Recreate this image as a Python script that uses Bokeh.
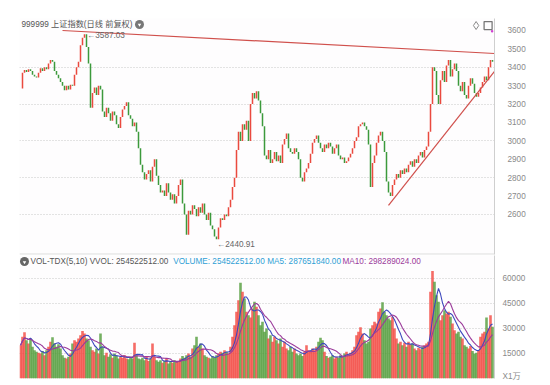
import numpy as np
import pandas as pd
from bokeh.plotting import figure
from bokeh.models import Range1d, FixedTicker, Label, ColumnDataSource
from bokeh.layouts import column
from bokeh.embed import file_html
from bokeh.resources import INLINE

# ---------------- data ----------------
close = [
    3285, 3370, 3385, 3375, 3390, 3380, 3360, 3350, 3345, 3370,
    3395, 3380, 3400, 3390, 3420, 3440, 3430, 3380, 3360, 3340,
    3320, 3300, 3275, 3300, 3280, 3305, 3300, 3360, 3400, 3430,
    3520, 3560, 3580, 3510, 3420, 3180, 3260, 3290, 3250, 3300,
    3280, 3160, 3130, 3180, 3150, 3110, 3160, 3140, 3090, 3070,
    3130, 3170, 3190, 3210, 3140, 3120, 3080, 3100, 3050, 2960,
    2870, 2830, 2790, 2820, 2840, 2780, 2860, 2900, 2810, 2760,
    2720, 2730, 2700, 2770, 2720, 2680, 2710, 2660, 2700, 2760,
    2790, 2660, 2600, 2490, 2620, 2600, 2650, 2630, 2590, 2640,
    2610, 2660, 2600, 2570, 2610, 2540, 2520, 2480, 2465, 2530,
    2580, 2570, 2600, 2590, 2640, 2680, 2750, 2800, 2950, 3050,
    3000, 3090, 3060, 3110, 3000, 3200, 3260, 3230, 3270, 3220,
    3150, 3080, 2920, 2900, 2950, 2880, 2900, 2940, 2890, 2920,
    2880, 2980, 3010, 3040, 2960, 2940, 2930, 2960, 2940, 2900,
    2800, 2780, 2830, 2850, 2880, 2930, 2990, 3010, 3030, 2990,
    2960, 2940, 2980, 2960, 2990, 2970, 2930, 2960, 2980, 2920,
    2900, 2910, 2880, 2890, 2910, 2930, 2960, 3000, 3020, 3080,
    3090, 3100, 3080, 3060, 2980, 2750, 2880, 2920, 2990, 3030,
    3050, 3000, 2940, 2780, 2720, 2700, 2760, 2790, 2820, 2800,
    2840, 2820, 2850, 2830, 2870, 2890, 2860, 2900, 2880, 2920,
    2940, 2910, 2950, 2970, 3050, 3200, 3400, 3380, 3250, 3200,
    3330, 3380, 3320, 3410, 3440, 3350, 3390, 3420, 3380, 3300,
    3270, 3320, 3250, 3230, 3300, 3340, 3310, 3260, 3240, 3260,
    3290, 3320, 3350, 3330, 3400, 3440, 3430,
]

volume = [
    20000, 25000, 27800, 23000, 21000, 24000, 19000, 17000, 16000, 15500,
    15000, 16500, 14000, 17000, 19000, 22000, 24700, 21000, 19000, 20500,
    18000, 14000, 12500, 12000, 13000, 15000, 21000, 23000, 22000, 24000,
    26000, 28500, 27000, 24000, 23000, 19000, 17000, 16000, 18000, 15000,
    27000, 19000, 14000, 15500, 13000, 14500, 12500, 15000, 13500, 12000,
    13000, 12500, 14000, 12000, 11500, 13000, 12000, 21500, 14000, 12000,
    11500, 12500, 11000, 13000, 10500, 12000, 21000, 13000, 11000, 10000,
    11000, 9500, 10500, 12000, 9000, 10000, 9500, 11000, 10000, 10500,
    12000, 13500, 12500, 14000, 15000, 13000, 18000, 20000, 25000, 19000,
    21000, 18000, 14000, 13000, 12500, 12000, 13500, 12500, 14000, 15000,
    16000, 15500, 17000, 16000, 15000, 19000, 25000, 32000, 40000, 47000,
    57400, 52000, 48000, 40000, 38000, 36600, 42000, 46000, 43000, 38000,
    32000, 34000, 28000, 30000, 24000, 26000, 22000, 25000, 23000, 21000,
    24000, 19000, 22000, 18000, 17000, 19000, 16000, 18000, 15000, 14000,
    15000, 13500, 16000, 20000, 17000, 16500, 18000, 17000, 19000, 22000,
    24500, 23000, 16000, 13500, 12500, 13000, 14000, 12000, 13000, 12500,
    14000, 13000, 15000, 16000, 14500, 15500, 17000, 19000, 26000, 28000,
    30800, 27000, 23000, 21000, 22000, 30000, 32000, 34000, 33000, 40000,
    42000, 45700, 40000, 38000, 36000, 35000, 37000, 30000, 24000, 21000,
    22000, 20000, 21500, 19000, 22000, 20500, 21000, 18000, 17000, 18500,
    17500, 19000, 20000, 21000, 22000, 52000, 64500, 58000, 50000, 46000,
    35000, 38000, 41000, 39000, 40000, 37000, 33000, 29000, 27000, 28000,
    25000, 24000, 20000, 19000, 18000, 19500, 16500, 15000, 15500, 17000,
    25000, 27000, 28000, 36600, 30000, 38000, 31000,
]

price_ticks = [2600, 2700, 2800, 2900, 3000, 3100, 3200, 3300, 3400, 3500, 3600]
price_grid = [2600, 2800, 3000, 3200, 3400]
vol_ticks = [15000, 30000, 45000, 60000]

upper_trend_x = [21, 237]
upper_trend_y = [3600, 3475]
lower_trend_x = [184, 237]
lower_trend_y = [2649, 3378]

title_text = "999999 上证指数(日线 前复权)"
peak_text = "←3587.03"
low_text = "←2440.91"
vol_name = "VOL-TDX(5,10) VVOL: 254522512.00"
vol_value = "VOLUME: 254522512.00"
ma5_text = "MA5: 287651840.00"
ma10_text = "MA10: 298289024.00"
unit_text = "X1万"

# ---------------- derived ----------------
n = len(close)
idx = np.arange(n)
c = np.array(close, dtype=float)
o = np.concatenate([[c[0]], c[:-1]])
up = c >= o
RED, GREEN = "#ea4a3f", "#3c9a3c"
VRED, VGREEN = "#f2433b", "#4e9a36"
candle_col = [RED if u else GREEN for u in up]
vol_col = [VRED if u else VGREEN for u in up]
vol = pd.Series(volume, dtype=float)
ma5 = vol.rolling(5, min_periods=1).mean().values
ma10 = vol.rolling(10, min_periods=1).mean().values

src = ColumnDataSource(dict(x=idx, top=np.maximum(o, c), bottom=np.minimum(o, c),
                            ccol=candle_col, vcol=vol_col, vol=volume,
                            ma5=ma5, ma10=ma10))

FONT = "Liberation Sans, Noto Sans CJK SC"
AXC = "#8a8a8a"
W = 545

# ---------------- price pane ----------------
xr = Range1d(-0.5, 237)
p1 = figure(width=W, height=255, x_range=xr, y_range=Range1d(2382.6, 3665.2),
            output_backend="svg", toolbar_location=None,
            x_axis_location=None, y_axis_location="right",
            min_border_left=19, min_border_right=W - 494, min_border_top=18, min_border_bottom=1)
p1.outline_line_color = None
p1.background_fill_color = "#fefdfe"
p1.yaxis.ticker = FixedTicker(ticks=price_ticks)
p1.yaxis.major_tick_out = 0
p1.yaxis.major_tick_in = 0
p1.yaxis.minor_tick_out = 0
p1.yaxis.minor_tick_in = 0
p1.yaxis.major_label_standoff = 13
p1.yaxis.axis_line_color = "#cfcfcf"
p1.yaxis.major_label_text_color = AXC
p1.yaxis.major_label_text_font = FONT
p1.yaxis.major_label_text_font_size = "8.2px"
p1.ygrid.ticker = FixedTicker(ticks=price_grid)
p1.ygrid.grid_line_color = "#c8c8c8"
p1.ygrid.grid_line_dash = "1 2"
p1.xgrid.visible = False

p1.vbar(x="x", width=0.75, top="top", bottom="bottom", fill_color="ccol",
        line_color=None, source=src)
p1.line(upper_trend_x, upper_trend_y, color="#d0504c", line_width=1.2)
p1.line(lower_trend_x, lower_trend_y, color="#d0504c", line_width=1.2)
p1.segment(x0=[-0.5], y0=[2384.5], x1=[237], y1=[2384.5], color="#cfcfcf", line_width=1)

p1.add_layout(Label(x=0.5, y=3632.6, text=title_text, text_font=FONT, text_font_size="8.2px",
                    text_color="#555555", text_baseline="middle", text_align="left"))
p1.scatter([59.5], [3632.6], size=9, marker="circle", fill_color="#777777", line_color=None)
p1.scatter([59.5], [3631], size=3.5, marker="inverted_triangle", fill_color="white", line_color=None)
p1.add_layout(Label(x=33.3, y=3572.8, text=peak_text, text_font=FONT, text_font_size="8.2px",
                    text_color="#666666", text_baseline="middle", text_align="left"))
p1.add_layout(Label(x=98.3, y=2437, text=low_text, text_font=FONT, text_font_size="8.2px",
                    text_color="#666666", text_baseline="middle", text_align="left"))
p1.scatter([227.8], [3627], size=8, marker="diamond", fill_color=None, line_color="#8a8a8a", line_width=1)
p1.scatter([233.8], [3627], size=8, marker="square", fill_color=None, line_color="#777777", line_width=1.3)
p1.scatter([235.8], [3596], size=2.5, marker="circle", fill_color="#d040d0", line_color=None)

# ---------------- volume pane ----------------
p2 = figure(width=W, height=126, x_range=xr, y_range=Range1d(0, 73800),
            output_backend="svg", toolbar_location=None,
            x_axis_location=None, y_axis_location="right",
            min_border_left=19, min_border_right=W - 494, min_border_top=0, min_border_bottom=3)
p2.outline_line_color = None
p2.background_fill_color = "#fefdfe"
p2.yaxis.ticker = FixedTicker(ticks=[1500] + vol_ticks)
p2.yaxis.major_label_overrides = {1500: unit_text}
p2.yaxis.major_tick_out = 0
p2.yaxis.major_tick_in = 0
p2.yaxis.minor_tick_out = 0
p2.yaxis.minor_tick_in = 0
p2.yaxis.major_label_standoff = 8
p2.yaxis.axis_line_color = "#cfcfcf"
p2.yaxis.major_label_text_color = AXC
p2.yaxis.major_label_text_font = FONT
p2.yaxis.major_label_text_font_size = "8.2px"
p2.ygrid.ticker = FixedTicker(ticks=vol_ticks)
p2.ygrid.grid_line_color = "#c8c8c8"
p2.ygrid.grid_line_dash = "1 2"
p2.xgrid.visible = False

p2.vbar(x="x", width=1.3, top="vol", bottom=0, fill_color="vcol", fill_alpha=0.78,
        line_color=None, source=src)
p2.line("x", "ma5", source=src, color="#3d48bd", line_width=1.1)
p2.line("x", "ma10", source=src, color="#9b3b9b", line_width=1.1)

hy = 70200
p2.scatter([2], [hy], size=9, marker="circle", fill_color="#666666", line_color=None)
p2.scatter([2], [hy - 400], size=3.5, marker="inverted_triangle", fill_color="white", line_color=None)
for xx, txt, col in [(5, vol_name, "#555555"), (76.35, vol_value, "#2e9fd5"),
                     (123.35, ma5_text, "#2e9fd5"), (161, ma10_text, "#9b3b9b")]:
    p2.add_layout(Label(x=xx, y=hy, text=txt, text_font=FONT, text_font_size="8.2px",
                        text_color=col, text_baseline="middle", text_align="left"))

layout = column(p1, p2)
open("out.html", "w").write(file_html(layout, INLINE))
